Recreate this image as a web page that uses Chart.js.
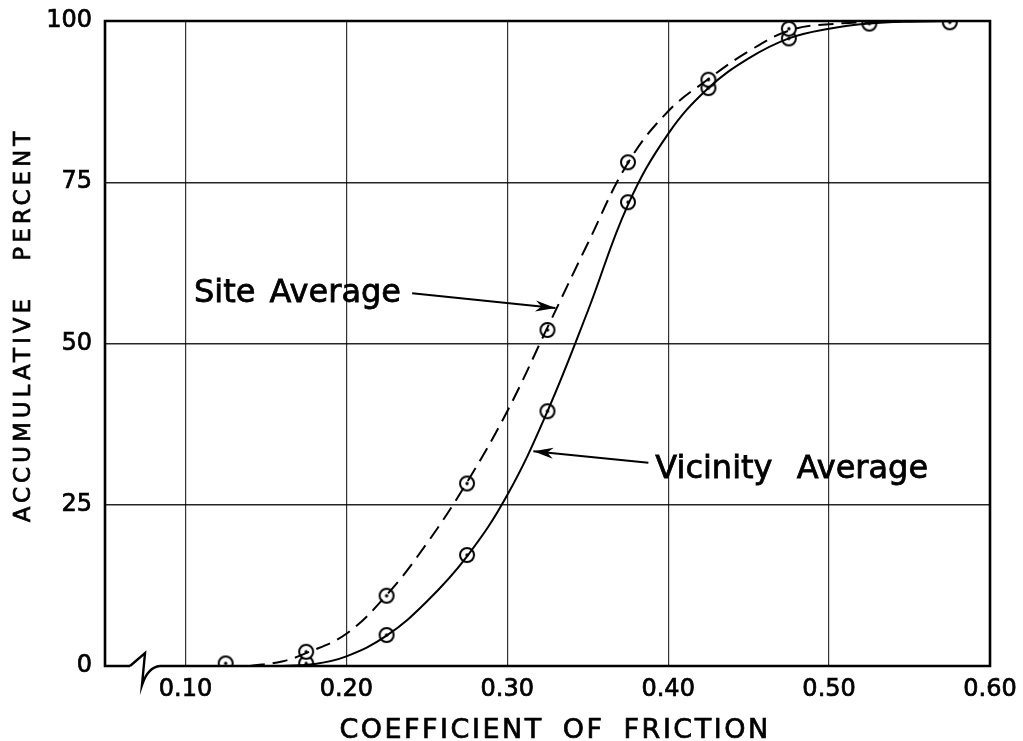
<!DOCTYPE html>
<html>
<head>
<meta charset="utf-8">
<script src="https://cdn.jsdelivr.net/npm/chart.js@4"></script>
<style>
  html, body { margin: 0; padding: 0; background: #fff; }
  #wrap { width: 1023px; height: 741px; }
</style>
</head>
<body>
<div id="wrap"><canvas id="frictionChart"></canvas></div>
<script>
var xTicks = [0.10, 0.20, 0.30, 0.40, 0.50, 0.60];
var yTicks = [0, 25, 50, 75, 100];

// measured points
var siteX = [0.125, 0.175, 0.225, 0.275, 0.325, 0.375, 0.425, 0.475];
var siteY = [0.4, 2.2, 10.9, 28.3, 52.1, 78.1, 90.9, 98.8];
var vicinityX = [0.175, 0.225, 0.275, 0.325, 0.375, 0.425, 0.475, 0.525, 0.575];
var vicinityY = [0.4, 4.8, 17.2, 39.5, 71.9, 89.6, 97.3, 99.6, 99.8];

// faired curves through the points
var siteCurveX = [0.14, 0.16, 0.175, 0.20, 0.225, 0.25, 0.275, 0.30, 0.325, 0.35, 0.375, 0.40, 0.425, 0.45, 0.475, 0.50, 0.55, 0.58];
var siteCurveY = [0, 0.7, 2, 5, 11, 19, 28.5, 39.5, 52.5, 65.5, 78, 86, 91, 95.3, 98.5, 99.5, 100, 100];
var vicinityCurveX = [0.16, 0.18, 0.20, 0.225, 0.25, 0.275, 0.30, 0.325, 0.35, 0.375, 0.40, 0.425, 0.45, 0.475, 0.50, 0.525, 0.55, 0.58];
var vicinityCurveY = [0, 0.3, 1.5, 4.7, 10, 17, 26.5, 39.5, 55, 71.5, 82.5, 89.6, 94.2, 97.3, 98.8, 99.6, 99.9, 100];

var notes = [
  { text: 'Site Average', x: 0.1053, y: 56.4, from: [0.2409, 57.8], to: [0.3299, 55.5] },
  { text: 'Vicinity Average', x: 0.392, y: 29.1, from: [0.3877, 31.5], to: [0.3162, 33.3] }
];

function pairs(xs, ys) {
  return xs.map(function (x, i) { return { x: x, y: ys[i] }; });
}

// open circle with a centre dot
function ringDot() {
  var c = document.createElement('canvas');
  c.width = 20; c.height = 20;
  var g = c.getContext('2d');
  g.fillStyle = '#fff';
  g.strokeStyle = '#000';
  g.lineWidth = 2;
  g.beginPath(); g.arc(10, 10, 7, 0, Math.PI * 2); g.fill(); g.stroke();
  g.fillStyle = '#000';
  g.beginPath(); g.arc(10, 10, 1.7, 0, Math.PI * 2); g.fill();
  return c;
}
var marker = ringDot();

function arrowHead(ctx, x1, y1, x2, y2) {
  var a = Math.atan2(y2 - y1, x2 - x1);
  ctx.save();
  ctx.translate(x2, y2);
  ctx.rotate(a);
  ctx.beginPath();
  ctx.moveTo(0, 0);
  ctx.lineTo(-20, -5.5);
  ctx.lineTo(-14, 0);
  ctx.lineTo(-20, 5.5);
  ctx.closePath();
  ctx.fill();
  ctx.restore();
}

function heavyText(ctx, s, x, y) {
  ctx.fillText(s, x, y);
  ctx.strokeText(s, x, y);
}

var drawing = {
  id: 'drawing',
  afterDatasetsDraw: function (chart) {
    var ctx = chart.ctx;
    var a = chart.chartArea;
    var xs = chart.scales.x, ys = chart.scales.y;
    ctx.save();
    ctx.strokeStyle = '#000';
    ctx.fillStyle = '#000';
    ctx.lineWidth = 2.6;
    ctx.lineJoin = 'miter';

    // frame, open at the axis break
    var b1 = a.left + 25, b2 = a.left + 55;
    ctx.beginPath();
    ctx.moveTo(b1, a.bottom);
    ctx.lineTo(a.left, a.bottom);
    ctx.lineTo(a.left, a.top);
    ctx.lineTo(a.right, a.top);
    ctx.lineTo(a.right, a.bottom);
    ctx.lineTo(b2, a.bottom);
    ctx.stroke();

    // break symbol
    ctx.lineWidth = 2.4;
    ctx.beginPath();
    ctx.moveTo(b1, a.bottom);
    ctx.lineTo(b1 + 15, a.bottom - 13);
    ctx.lineTo(b1 + 12, a.bottom + 19);
    ctx.quadraticCurveTo(b1 + 18, a.bottom + 1, b2, a.bottom);
    ctx.stroke();

    // axis titles
    ctx.lineWidth = 0.7;
    ctx.font = '27px "DejaVu Sans"';
    ctx.textAlign = 'center';
    ctx.textBaseline = 'alphabetic';
    ctx.letterSpacing = '2.5px';
    ctx.wordSpacing = '8px';
    heavyText(ctx, 'COEFFICIENT OF FRICTION', 555, 738);

    ctx.save();
    ctx.translate(30, 325);
    ctx.rotate(-Math.PI / 2);
    ctx.font = '23px "DejaVu Sans"';
    ctx.letterSpacing = '4px';
    ctx.wordSpacing = '23px';
    heavyText(ctx, 'ACCUMULATIVE PERCENT', 0, 0);
    ctx.restore();

    // labelled arrows
    ctx.font = '32px "DejaVu Sans"';
    ctx.textAlign = 'left';
    notes.forEach(function (n, i) {
      ctx.lineWidth = 0.8;
      ctx.letterSpacing = '0px';
      ctx.wordSpacing = i === 1 ? '14px' : '4px';
      heavyText(ctx, n.text, xs.getPixelForValue(n.x), ys.getPixelForValue(n.y));
      var x1 = xs.getPixelForValue(n.from[0]), y1 = ys.getPixelForValue(n.from[1]);
      var x2 = xs.getPixelForValue(n.to[0]), y2 = ys.getPixelForValue(n.to[1]);
      ctx.lineWidth = 2;
      ctx.beginPath();
      ctx.moveTo(x1, y1);
      ctx.lineTo(x2, y2);
      ctx.stroke();
      arrowHead(ctx, x1, y1, x2, y2);
    });
    ctx.restore();
  }
};

var tickFont = { family: 'DejaVu Sans', size: 24 };

new Chart(document.getElementById('frictionChart'), {
  type: 'line',
  data: {
    datasets: [
      {
        label: 'Site Average curve',
        data: pairs(siteCurveX, siteCurveY),
        borderColor: '#000',
        borderWidth: 2,
        borderDash: [15, 8],
        pointRadius: 0,
        tension: 0.4,
        fill: false
      },
      {
        label: 'Vicinity Average curve',
        data: pairs(vicinityCurveX, vicinityCurveY),
        borderColor: '#000',
        borderWidth: 2,
        pointRadius: 0,
        tension: 0.4,
        fill: false
      },
      {
        label: 'Site Average',
        data: pairs(siteX, siteY),
        showLine: false,
        pointStyle: marker
      },
      {
        label: 'Vicinity Average',
        data: pairs(vicinityX, vicinityY),
        showLine: false,
        pointStyle: marker
      }
    ]
  },
  options: {
    responsive: true,
    maintainAspectRatio: false,
    animation: false,
    layout: { padding: { top: 21, right: 33, left: 0, bottom: 0 } },
    plugins: {
      legend: { display: false },
      tooltip: { enabled: false }
    },
    scales: {
      x: {
        type: 'linear',
        min: 0.05,
        max: 0.60,
        afterBuildTicks: function (s) { s.ticks = xTicks.map(function (v) { return { value: v }; }); },
        afterFit: function (s) { s.height = 75; },
        border: { display: false },
        grid: {
          drawTicks: true,
          tickLength: 9,
          tickColor: 'rgba(0,0,0,0)',
          color: 'rgba(0,0,0,0.8)',
          lineWidth: 1.2
        },
        ticks: {
          padding: 0,
          color: '#000',
          textStrokeColor: '#000',
          textStrokeWidth: 0.7,
          font: tickFont,
          callback: function (v) { return v.toFixed(2); }
        }
      },
      y: {
        min: 0,
        max: 100,
        afterBuildTicks: function (s) { s.ticks = yTicks.map(function (v) { return { value: v }; }); },
        afterFit: function (s) { s.width = 105; },
        border: { display: false },
        grid: {
          drawTicks: true,
          tickLength: 13,
          tickColor: 'rgba(0,0,0,0)',
          color: function (c) { return (c.tick && (c.tick.value === 0 || c.tick.value === 100)) ? 'rgba(0,0,0,0)' : 'rgba(0,0,0,0.85)'; },
          lineWidth: 1.4
        },
        ticks: {
          padding: 0,
          color: '#000',
          textStrokeColor: '#000',
          textStrokeWidth: 0.7,
          font: tickFont
        }
      }
    }
  },
  plugins: [drawing]
});
</script>
</body>
</html>
